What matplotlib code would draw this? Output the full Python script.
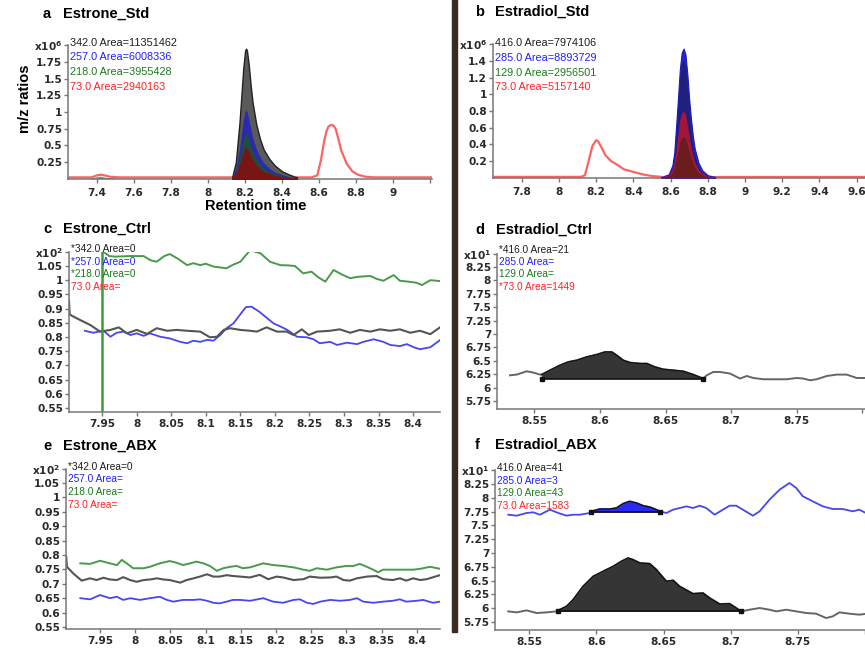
import matplotlib
matplotlib.use("Agg")
import matplotlib.pyplot as plt
from matplotlib.patches import Rectangle
import numpy as np

plt.rcParams['font.family'] = ['Liberation Sans', 'DejaVu Sans']
plt.rcParams['mathtext.default'] = 'regular'

W, H = 865, 650

# ---------------- data: a  Estrone_Std (x10^6) ----------------
a_pk_x = [8.13, 8.15, 8.17, 8.18, 8.19, 8.20, 8.205, 8.21, 8.22, 8.23,
          8.24, 8.26, 8.28, 8.30, 8.33, 8.36, 8.40, 8.44, 8.48]
a_black = [0.02, 0.25, 0.85, 1.25, 1.65, 1.92, 1.95, 1.92, 1.70, 1.40,
           1.15, 0.82, 0.60, 0.44, 0.30, 0.20, 0.11, 0.06, 0.02]
a_blue = [0.02, 0.15, 0.45, 0.66, 0.88, 1.01, 1.03, 1.01, 0.90, 0.75,
          0.62, 0.45, 0.33, 0.24, 0.16, 0.10, 0.06, 0.03, 0.01]
a_green = [0.02, 0.10, 0.30, 0.44, 0.58, 0.67, 0.68, 0.67, 0.60, 0.50,
           0.41, 0.30, 0.22, 0.16, 0.11, 0.07, 0.04, 0.02, 0.01]
a_red = [0.02, 0.08, 0.22, 0.31, 0.40, 0.46, 0.47, 0.46, 0.41, 0.35,
         0.29, 0.21, 0.15, 0.11, 0.08, 0.05, 0.03, 0.02, 0.01]
a_bump_x = [7.36, 7.40, 7.42, 7.45, 7.50]
a_bump_green = [0.01, 0.03, 0.035, 0.02, 0.01]
a_red_left_x = [7.243, 7.37, 7.40, 7.42, 7.44, 7.47, 7.52, 8.13]
a_red_left_y = [0.02, 0.02, 0.05, 0.06, 0.05, 0.03, 0.02, 0.02]
a_red_right_x = [8.48, 8.56, 8.59, 8.61, 8.62, 8.63, 8.64, 8.65, 8.66, 8.67,
                 8.68, 8.69, 8.70, 8.72, 8.75, 8.78, 8.81, 8.85, 8.90, 9.21]
a_red_right_y = [0.02, 0.02, 0.05, 0.28, 0.45, 0.60, 0.71, 0.78, 0.80, 0.805,
                 0.79, 0.74, 0.64, 0.42, 0.22, 0.11, 0.06, 0.03, 0.02, 0.02]

# ---------------- data: b  Estradiol_Std (x10^6) ----------------
b_pk_x = [8.55, 8.59, 8.61, 8.62, 8.63, 8.64, 8.65, 8.66, 8.67, 8.68,
          8.69, 8.70, 8.71, 8.72, 8.73, 8.75, 8.77, 8.80, 8.84]
b_blue = [0.01, 0.04, 0.15, 0.30, 0.62, 0.95, 1.30, 1.50, 1.55, 1.48,
          1.25, 0.95, 0.70, 0.50, 0.35, 0.18, 0.09, 0.03, 0.01]
b_black = [0.00, 0.02, 0.10, 0.24, 0.52, 0.85, 1.18, 1.38, 1.42, 1.35,
           1.12, 0.82, 0.58, 0.40, 0.27, 0.13, 0.06, 0.02, 0.00]
b_red = [0.01, 0.03, 0.10, 0.18, 0.34, 0.52, 0.70, 0.78, 0.80, 0.76,
         0.65, 0.50, 0.37, 0.27, 0.19, 0.10, 0.05, 0.02, 0.01]
b_green = [0.00, 0.02, 0.06, 0.11, 0.21, 0.32, 0.43, 0.48, 0.49, 0.47,
           0.40, 0.31, 0.23, 0.17, 0.12, 0.06, 0.03, 0.01, 0.00]
b_red_left_x = [7.646, 8.12, 8.14, 8.16, 8.18, 8.20, 8.21, 8.23, 8.25, 8.28,
                8.31, 8.35, 8.40, 8.45, 8.50, 8.55]
b_red_left_y = [0.01, 0.01, 0.03, 0.20, 0.38, 0.45, 0.44, 0.36, 0.27, 0.20,
                0.16, 0.10, 0.07, 0.04, 0.02, 0.01]
b_red_right_x = [8.84, 9.645]
b_red_right_y = [0.01, 0.01]

# ---------------- data: c  Estrone_Ctrl (x10^2) ----------------
c_black_x = [7.902, 7.903, 7.906, 7.918, 7.933, 7.947, 7.962, 7.974, 7.986, 8.000,
             8.015, 8.029, 8.044, 8.058, 8.073, 8.092, 8.106, 8.116, 8.126, 8.135,
             8.150, 8.164, 8.174, 8.188, 8.203, 8.217, 8.227, 8.239, 8.249, 8.261,
             8.280, 8.294, 8.309, 8.323, 8.338, 8.352, 8.367, 8.381, 8.396, 8.410,
             8.425, 8.439]
c_black_y = [0.930, 0.880, 0.875, 0.860, 0.842, 0.819, 0.825, 0.834, 0.813, 0.825,
             0.811, 0.831, 0.822, 0.825, 0.822, 0.819, 0.799, 0.801, 0.825, 0.831,
             0.825, 0.822, 0.819, 0.834, 0.819, 0.819, 0.807, 0.827, 0.807, 0.819,
             0.822, 0.827, 0.815, 0.825, 0.819, 0.827, 0.822, 0.827, 0.815, 0.822,
             0.810, 0.834]
c_blue_x = [7.925, 7.937, 7.952, 7.962, 7.971, 7.981, 7.991, 8.000, 8.010, 8.019,
            8.034, 8.048, 8.063, 8.073, 8.082, 8.092, 8.102, 8.111, 8.121, 8.130,
            8.140, 8.150, 8.158, 8.166, 8.178, 8.188, 8.198, 8.208, 8.218, 8.232,
            8.246, 8.256, 8.265, 8.280, 8.290, 8.304, 8.319, 8.328, 8.343, 8.357,
            8.367, 8.381, 8.391, 8.401, 8.410, 8.425, 8.439]
c_blue_y = [0.822, 0.815, 0.822, 0.801, 0.815, 0.819, 0.807, 0.813, 0.804, 0.813,
            0.801, 0.795, 0.783, 0.778, 0.787, 0.783, 0.790, 0.787, 0.807, 0.831,
            0.848, 0.880, 0.905, 0.907, 0.888, 0.868, 0.848, 0.837, 0.825, 0.801,
            0.799, 0.792, 0.778, 0.783, 0.772, 0.780, 0.775, 0.783, 0.792, 0.783,
            0.772, 0.768, 0.775, 0.764, 0.757, 0.764, 0.789]
c_green_x = [7.952, 7.960, 7.969, 7.990, 8.010, 8.020, 8.029, 8.040, 8.048, 8.060,
             8.073, 8.082, 8.092, 8.100, 8.111, 8.120, 8.130, 8.140, 8.150, 8.164,
             8.179, 8.193, 8.208, 8.220, 8.229, 8.241, 8.253, 8.263, 8.273, 8.285,
             8.297, 8.309, 8.320, 8.338, 8.347, 8.357, 8.372, 8.381, 8.393, 8.405,
             8.413, 8.425, 8.439]
c_green_y = [1.100, 1.085, 1.083, 1.085, 1.085, 1.070, 1.065, 1.085, 1.092, 1.075,
             1.053, 1.060, 1.053, 1.058, 1.048, 1.045, 1.042, 1.055, 1.065, 1.105,
             1.095, 1.065, 1.053, 1.052, 1.050, 1.024, 1.030, 1.010, 0.995, 1.036,
             1.020, 1.007, 1.012, 1.015, 1.005, 0.998, 1.018, 0.998, 0.995, 0.991,
             0.983, 1.000, 0.997]
c_marker_rt = 7.95

# ---------------- data: d  Estradiol_Ctrl (x10^1) ----------------
d_x = [8.5315, 8.5366, 8.5442, 8.5492, 8.5543, 8.5556, 8.5620, 8.5696, 8.5759, 8.5823,
       8.5900, 8.5976, 8.6039, 8.6090, 8.6128, 8.6178, 8.6230, 8.6306, 8.6357, 8.6420,
       8.6483, 8.6560, 8.6636, 8.6712, 8.6776, 8.6788, 8.6814, 8.6864, 8.6915, 8.6992,
       8.7068, 8.7119, 8.7169, 8.7245, 8.7322, 8.7424, 8.7500, 8.7550, 8.7601, 8.7652,
       8.7729, 8.7805, 8.7881, 8.7957, 8.8020]
d_black = [6.229, 6.242, 6.304, 6.280, 6.242, 6.242, 6.323, 6.416, 6.478, 6.509,
           6.571, 6.616, 6.664, 6.664, 6.603, 6.509, 6.466, 6.448, 6.448, 6.384,
           6.341, 6.323, 6.304, 6.242, 6.179, 6.168, 6.229, 6.291, 6.291, 6.261,
           6.168, 6.216, 6.179, 6.155, 6.155, 6.155, 6.179, 6.168, 6.136, 6.155,
           6.216, 6.242, 6.242, 6.179, 6.179]
d_peak = (8.5556, 8.6788)
d_base = 6.168

# ---------------- data: e  Estrone_ABX (x10^2) ----------------
e_black_x = [7.902, 7.903, 7.912, 7.924, 7.936, 7.945, 7.955, 7.964, 7.974, 7.983,
             7.993, 8.002, 8.012, 8.021, 8.031, 8.040, 8.049, 8.064, 8.073, 8.083,
             8.092, 8.102, 8.111, 8.120, 8.130, 8.139, 8.149, 8.163, 8.177, 8.189,
             8.201, 8.210, 8.225, 8.239, 8.248, 8.263, 8.277, 8.286, 8.296, 8.305,
             8.315, 8.329, 8.343, 8.352, 8.366, 8.376, 8.385, 8.395, 8.405, 8.414,
             8.433]
e_black_y = [0.794, 0.759, 0.736, 0.711, 0.719, 0.713, 0.721, 0.715, 0.713, 0.723,
             0.713, 0.707, 0.713, 0.715, 0.719, 0.715, 0.713, 0.704, 0.713, 0.719,
             0.725, 0.733, 0.725, 0.725, 0.730, 0.727, 0.725, 0.722, 0.731, 0.716,
             0.725, 0.722, 0.713, 0.716, 0.725, 0.721, 0.722, 0.725, 0.713, 0.711,
             0.719, 0.725, 0.727, 0.716, 0.713, 0.719, 0.711, 0.719, 0.713, 0.716,
             0.730]
e_blue_x = [7.922, 7.936, 7.950, 7.964, 7.974, 7.983, 7.993, 8.007, 8.021, 8.035,
            8.045, 8.054, 8.068, 8.083, 8.092, 8.102, 8.111, 8.120, 8.130, 8.139,
            8.149, 8.163, 8.182, 8.196, 8.210, 8.225, 8.234, 8.244, 8.253, 8.263,
            8.277, 8.291, 8.305, 8.315, 8.324, 8.338, 8.352, 8.366, 8.376, 8.385,
            8.400, 8.409, 8.423, 8.433]
e_blue_y = [0.650, 0.646, 0.661, 0.650, 0.655, 0.644, 0.650, 0.644, 0.650, 0.655,
            0.644, 0.638, 0.644, 0.644, 0.646, 0.641, 0.634, 0.632, 0.638, 0.644,
            0.644, 0.641, 0.650, 0.638, 0.634, 0.644, 0.646, 0.634, 0.630, 0.638,
            0.644, 0.641, 0.644, 0.650, 0.638, 0.634, 0.638, 0.641, 0.646, 0.638,
            0.641, 0.644, 0.634, 0.638]
e_green_x = [7.922, 7.936, 7.950, 7.964, 7.974, 7.981, 7.988, 7.997, 8.012, 8.021,
             8.035, 8.049, 8.059, 8.068, 8.078, 8.087, 8.097, 8.106, 8.116, 8.125,
             8.135, 8.144, 8.153, 8.163, 8.182, 8.196, 8.210, 8.225, 8.239, 8.248,
             8.258, 8.272, 8.286, 8.300, 8.310, 8.319, 8.329, 8.338, 8.345, 8.352,
             8.366, 8.380, 8.395, 8.405, 8.419, 8.433]
e_green_y = [0.771, 0.769, 0.780, 0.771, 0.765, 0.783, 0.771, 0.754, 0.754, 0.759,
             0.771, 0.779, 0.773, 0.765, 0.771, 0.777, 0.771, 0.762, 0.745, 0.754,
             0.759, 0.762, 0.754, 0.757, 0.771, 0.765, 0.762, 0.757, 0.749, 0.745,
             0.754, 0.749, 0.757, 0.762, 0.762, 0.769, 0.759, 0.749, 0.740, 0.749,
             0.749, 0.749, 0.749, 0.752, 0.759, 0.752]

# ---------------- data: f  Estradiol_ABX (x10^1) ----------------
f_black_x = [8.5344, 8.5406, 8.5480, 8.5555, 8.5629, 8.5703, 8.5716, 8.5778, 8.5827, 8.5901,
             8.5976, 8.6050, 8.6125, 8.6186, 8.6236, 8.6273, 8.6323, 8.6397, 8.6447, 8.6521,
             8.6571, 8.6620, 8.6719, 8.6794, 8.6843, 8.6918, 8.6992, 8.7041, 8.7079, 8.7141,
             8.7215, 8.7289, 8.7339, 8.7413, 8.7488, 8.7562, 8.7636, 8.7711, 8.7760, 8.7810,
             8.7884, 8.7958, 8.7996]
f_black_y = [5.943, 5.925, 5.961, 5.913, 5.925, 5.943, 5.961, 6.034, 6.155, 6.396,
             6.577, 6.668, 6.758, 6.849, 6.909, 6.879, 6.819, 6.807, 6.698, 6.487,
             6.505, 6.396, 6.263, 6.275, 6.185, 6.076, 6.082, 6.004, 5.943, 5.973,
             6.004, 5.973, 5.943, 5.973, 5.943, 5.913, 5.901, 5.822, 5.853, 5.925,
             5.901, 5.883, 5.895]
f_black_peak = (8.5716, 8.7079)
f_black_base = 5.943
f_blue_x = [8.5344, 8.5406, 8.5480, 8.5530, 8.5579, 8.5654, 8.5716, 8.5778, 8.5827, 8.5877,
            8.5951, 8.5963, 8.6025, 8.6100, 8.6149, 8.6199, 8.6248, 8.6298, 8.6348, 8.6397,
            8.6447, 8.6472, 8.6521, 8.6571, 8.6620, 8.6670, 8.6719, 8.6769, 8.6818, 8.6880,
            8.6942, 8.6992, 8.7041, 8.7091, 8.7165, 8.7215, 8.7289, 8.7364, 8.7438, 8.7488,
            8.7537, 8.7611, 8.7686, 8.7760, 8.7834, 8.7909, 8.7958, 8.7996]
f_blue_y = [7.694, 7.676, 7.725, 7.737, 7.694, 7.785, 7.725, 7.676, 7.694, 7.694,
            7.725, 7.755, 7.797, 7.797, 7.815, 7.894, 7.936, 7.906, 7.857, 7.833,
            7.785, 7.755, 7.725, 7.785, 7.815, 7.845, 7.815, 7.857, 7.815, 7.694,
            7.785, 7.857, 7.857, 7.785, 7.676, 7.755, 7.966, 8.147, 8.268, 8.178,
            8.027, 7.936, 7.845, 7.797, 7.797, 7.755, 7.785, 7.737]
f_blue_peak = (8.5963, 8.6472)
f_blue_base = 7.737

# ---------------- labels ----------------
a_legend = ['342.0 Area=11351462', '257.0 Area=6008336', '218.0 Area=3955428', '73.0 Area=2940163']
b_legend = ['416.0 Area=7974106', '285.0 Area=8893729', '129.0 Area=2956501', '73.0 Area=5157140']
c_legend = ['*342.0 Area=0', '*257.0 Area=0', '*218.0 Area=0', '73.0 Area=']
d_legend = ['*416.0 Area=21', '285.0 Area=', '129.0 Area=', '*73.0 Area=1449']
e_legend = ['*342.0 Area=0', '257.0 Area=', '218.0 Area=', '73.0 Area=']
f_legend = ['416.0 Area=41', '285.0 Area=3', '129.0 Area=43', '73.0 Area=1583']
legend_colors = ['#1e1e1e', '#2020ff', '#1d7a1d', '#ff2222']

a_xticks = [7.4, 7.6, 7.8, 8.0, 8.2, 8.4, 8.6, 8.8, 9.0, 9.2]
a_xlabels = ['7.4', '7.6', '7.8', '8', '8.2', '8.4', '8.6', '8.8', '9', '']
a_yticks = [0.25, 0.5, 0.75, 1.0, 1.25, 1.5, 1.75, 2.0]
a_ylabels = ['0.25', '0.5', '0.75', '1', '1.25', '1.5', '1.75', 'x10$^{6}$']
b_xticks = [7.8, 8.0, 8.2, 8.4, 8.6, 8.8, 9.0, 9.2, 9.4, 9.6]
b_xlabels = ['7.8', '8', '8.2', '8.4', '8.6', '8.8', '9', '9.2', '9.4', '9.6']
b_yticks = [0.2, 0.4, 0.6, 0.8, 1.0, 1.2, 1.4, 1.6]
b_ylabels = ['0.2', '0.4', '0.6', '0.8', '1', '1.2', '1.4', 'x10$^{6}$']
ce_xticks = [7.95, 8.0, 8.05, 8.1, 8.15, 8.2, 8.25, 8.3, 8.35, 8.4]
ce_xlabels = ['7.95', '8', '8.05', '8.1', '8.15', '8.2', '8.25', '8.3', '8.35', '8.4']
ce_yticks = [0.55, 0.6, 0.65, 0.7, 0.75, 0.8, 0.85, 0.9, 0.95, 1.0, 1.05, 1.1]
ce_ylabels = ['0.55', '0.6', '0.65', '0.7', '0.75', '0.8', '0.85', '0.9', '0.95', '1', '1.05',
              'x10$^{2}$']
df_xticks = [8.55, 8.6, 8.65, 8.7, 8.75, 8.8]
df_xlabels = ['8.55', '8.6', '8.65', '8.7', '8.75', '']
df_yticks = [5.75, 6.0, 6.25, 6.5, 6.75, 7.0, 7.25, 7.5, 7.75, 8.0, 8.25, 8.5]
df_ylabels = ['5.75', '6', '6.25', '6.5', '6.75', '7', '7.25', '7.5', '7.75', '8', '8.25',
              'x10$^{1}$']

# colours
GRAY = '#555555'
BLUE = '#4646f2'
GREEN = '#4a9a4a'
PINK = '#ff6262'


def px_axes(fig, left, top, right, bottom):
    return fig.add_axes([left / W, 1 - bottom / H, (right - left) / W, (bottom - top) / H])


def style(ax, xlim, ylim, xt, xl, yt, yl, xpad):
    ax.set_xlim(xlim)
    ax.set_ylim(ylim)
    for s in ('top', 'right'):
        ax.spines[s].set_visible(False)
    for s in ('left', 'bottom'):
        ax.spines[s].set_color('#777777')
        ax.spines[s].set_linewidth(1.1)
    ax.set_xticks(xt, xl)
    ax.set_yticks(yt, yl)
    ax.tick_params(direction='out', length=3, width=1, color='#777777',
                   labelsize=7.6, labelcolor='#2a2a2a')
    ax.tick_params(axis='x', pad=xpad)
    ax.tick_params(axis='y', pad=1.2)
    for lab in ax.get_xticklabels() + ax.get_yticklabels():
        lab.set_fontweight('bold')
        lab.set_family(['DejaVu Sans'])
    ax.patch.set_alpha(0)


def legend(ax, lines, size, step, y0):
    for i, (t, c) in enumerate(zip(lines, legend_colors)):
        ax.annotate(t, xy=(0, 1), xycoords='axes fraction', xytext=(2, y0 - i * step),
                    textcoords='offset pixels', ha='left', va='center',
                    fontsize=size, color=c)


def peak_fill(ax, x, y, lims, base, color):
    x = np.asarray(x)
    y = np.asarray(y)
    m = (x >= lims[0] - 1e-6) & (x <= lims[1] + 1e-6)
    ax.fill_between(x[m], y[m], base, color=color, lw=0, zorder=3)
    ax.plot(x[m], y[m], color='#111111', lw=1.0, zorder=4)
    ax.plot([lims[0], lims[1]], [base, base], color='#111111', lw=1.2, zorder=4)
    ax.plot([lims[0], lims[1]], [base, base], ls='none', marker='s', ms=3.5,
            color='#111111', zorder=5)


fig = plt.figure(figsize=(W / 100, H / 100), dpi=100)

# ---- a ----
ax = px_axes(fig, 68, 45.3, 432, 178.7)
style(ax, (7.243, 9.21), (0, 2.0), a_xticks, a_xlabels, a_yticks, a_ylabels, 4)
ax.fill_between(a_bump_x, a_bump_green, 0, color='#5aa05a', lw=0)
ax.plot(a_red_left_x, a_red_left_y, color=PINK, lw=1.6)
ax.plot(a_red_right_x, a_red_right_y, color=PINK, lw=1.6)
ax.fill_between(a_pk_x, a_black, 0, color='#5a5a5a', ec='#222222', lw=1.0, zorder=3)
ax.fill_between(a_pk_x, a_blue, 0, color='#2a2ab0', lw=0, zorder=3)
ax.fill_between(a_pk_x, a_green, 0, color='#1d4f3c', lw=0, zorder=3)
ax.fill_between(a_pk_x, a_red, 0, color='#7a1515', lw=0, zorder=3)
legend(ax, a_legend, 7.8, 14.8, 2.6)
ax.text(0.515, -0.205, 'Retention time', transform=ax.transAxes, ha='center', va='center',
        fontsize=10.5, fontweight='bold')
ax.text(-0.117, 0.60, 'm/z ratios', transform=ax.transAxes, ha='center', va='center',
        rotation=90, fontsize=10.5, fontweight='bold')

# ---- b ----
ax = px_axes(fig, 493, 44.4, 865, 177.7)
style(ax, (7.646, 9.645), (0, 1.6), b_xticks, b_xlabels, b_yticks, b_ylabels, 4)
ax.plot(b_red_left_x, b_red_left_y, color=PINK, lw=1.6)
ax.plot(b_red_right_x, b_red_right_y, color=PINK, lw=1.6)
ax.fill_between(b_pk_x, b_blue, 0, color='#2424e6', ec='#1a1ab0', lw=0.8, zorder=3)
ax.fill_between(b_pk_x, b_black, 0, color='#1f1f7c', lw=0, zorder=3)
ax.fill_between(b_pk_x, b_red, 0, color='#a3163c', lw=0, zorder=3)
ax.fill_between(b_pk_x, b_green, 0, color='#6b1c1c', lw=0, zorder=3)
legend(ax, b_legend, 7.8, 14.9, 1.7)

# ---- c ----
ax = px_axes(fig, 69, 251.8, 440, 412)
style(ax, (7.902, 8.439), (0.536, 1.1), ce_xticks, ce_xlabels, ce_yticks, ce_ylabels, 2)
ax.plot(c_green_x, c_green_y, color=GREEN, lw=1.4)
ax.plot(c_blue_x, c_blue_y, color=BLUE, lw=1.3)
ax.plot(c_black_x, c_black_y, color=GRAY, lw=1.5)
ax.axvline(c_marker_rt, color='#3d9a3d', lw=1.8)
legend(ax, c_legend, 7.3, 12.4, 2.5)

# ---- d ----
ax = px_axes(fig, 497, 253.6, 865, 409)
style(ax, (8.5216, 8.802), (5.6, 8.5), df_xticks, df_xlabels, df_yticks, df_ylabels, 2)
ax.plot(d_x, d_black, color='#666666', lw=1.4)
peak_fill(ax, d_x, d_black, d_peak, d_base, '#353535')
legend(ax, d_legend, 7.3, 12.2, 3.6)

# ---- e ----
ax = px_axes(fig, 66, 468.6, 440, 629)
style(ax, (7.9017, 8.433), (0.543, 1.1), ce_xticks, ce_xlabels, ce_yticks, ce_ylabels, 2)
ax.plot(e_green_x, e_green_y, color=GREEN, lw=1.4)
ax.plot(e_black_x, e_black_y, color=GRAY, lw=1.5)
ax.plot(e_blue_x, e_blue_y, color=BLUE, lw=1.3)
legend(ax, e_legend, 7.3, 12.8, 2.0)

# ---- f ----
ax = px_axes(fig, 495, 470.2, 865, 630.3)
style(ax, (8.5245, 8.7996), (5.6, 8.5), df_xticks, df_xlabels, df_yticks, df_ylabels, 2)
ax.plot(f_black_x, f_black_y, color='#666666', lw=1.4)
ax.plot(f_blue_x, f_blue_y, color=BLUE, lw=1.3)
peak_fill(ax, f_black_x, f_black_y, f_black_peak, f_black_base, '#353535')
peak_fill(ax, f_blue_x, f_blue_y, f_blue_peak, f_blue_base, '#2a2af5')
legend(ax, f_legend, 7.3, 12.6, 2.0)

# panel titles
titles = [('a', 'Estrone_Std', 43, 63, 14), ('b', 'Estradiol_Std', 475, 495, 12),
          ('c', 'Estrone_Ctrl', 43, 63, 229), ('d', 'Estradiol_Ctrl', 475, 496, 230),
          ('e', 'Estrone_ABX', 43, 63, 446), ('f', 'Estradiol_ABX', 475, 495, 445)]
for letter, name, xl, xn, yc in titles:
    fig.text(xl / W, 1 - yc / H, letter, fontsize=10.5, fontweight='bold', va='center')
    fig.text(xn / W, 1 - yc / H, name, fontsize=10.5, fontweight='bold', va='center')

# divider bar between the two columns
fig.patches.append(Rectangle((452 / W, 1 - 632 / H), 5 / W, 632 / H,
                             transform=fig.transFigure, color='#3b2a1f', zorder=0))

fig.savefig('out.png', dpi=100)
